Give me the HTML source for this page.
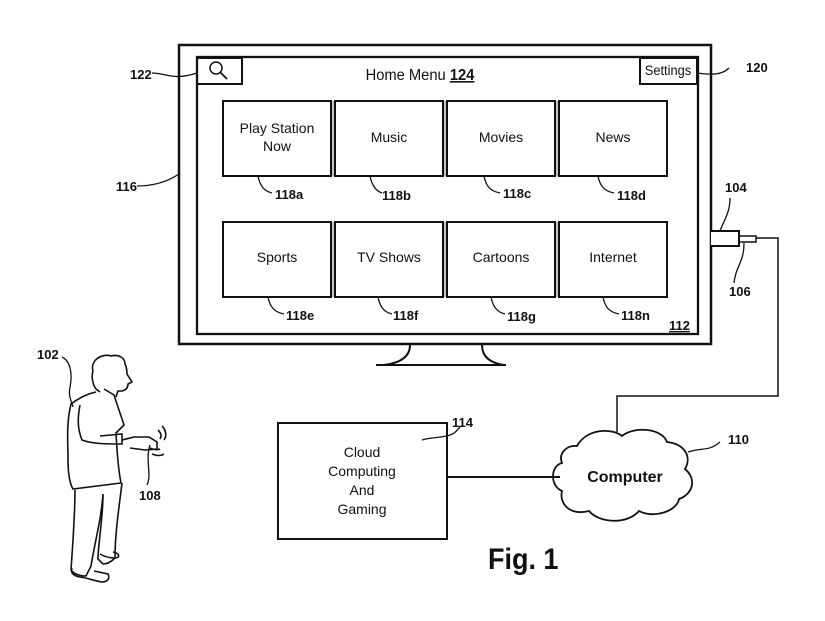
<!DOCTYPE html>
<html><head><style>
body{margin:0;background:#fff}
svg{display:block}
text{font-family:"Liberation Sans",sans-serif;fill:#111}
.t{font-size:14px;text-anchor:middle}
.b{font-size:13px;font-weight:bold}
</style></head><body>
<svg width="825" height="621" viewBox="0 0 825 621" xmlns="http://www.w3.org/2000/svg" fill="none" stroke="#111" stroke-width="2">
<!-- TV -->
<rect x="179" y="45" width="532" height="299" stroke-width="2.5"/>
<rect x="197" y="57" width="501" height="277" stroke-width="2.3"/>
<rect x="197" y="58" width="45" height="26"/>
<circle cx="216" cy="68" r="6" stroke-width="1.5"/>
<line x1="220" y1="72" x2="227" y2="79" stroke-width="1.8"/>
<rect x="640" y="58" width="57" height="26"/>
<g stroke="none">
<text x="668" y="75" class="t" transform="translate(668,0) scale(0.92,1) translate(-668,0)">Settings</text>
<text x="420" y="80" style="font-size:16px" text-anchor="middle" transform="translate(420,0) scale(0.92,1) translate(-420,0)">Home Menu <tspan font-weight="bold" text-decoration="underline">124</tspan></text>
</g>
<!-- tiles -->
<g stroke-width="2">
<rect x="223" y="101" width="108" height="75"/><rect x="335" y="101" width="108" height="75"/>
<rect x="447" y="101" width="108" height="75"/><rect x="559" y="101" width="108" height="75"/>
<rect x="223" y="222" width="108" height="75"/><rect x="335" y="222" width="108" height="75"/>
<rect x="447" y="222" width="108" height="75"/><rect x="559" y="222" width="108" height="75"/>
<path d="M333 101v75M445 101v75M557 101v75M333 222v75M445 222v75M557 222v75" stroke-width="1" stroke="#888"/>
</g>
<g stroke="none">
<text x="277" y="133" class="t">Play Station</text><text x="277" y="151" class="t">Now</text>
<text x="389" y="142" class="t">Music</text><text x="501" y="142" class="t">Movies</text><text x="613" y="142" class="t">News</text>
<text x="277" y="262" class="t">Sports</text><text x="389" y="262" class="t">TV Shows</text><text x="501" y="262" class="t">Cartoons</text><text x="613" y="262" class="t">Internet</text>
<text x="275" y="199" class="b">118a</text><text x="382" y="200" class="b">118b</text><text x="503" y="198" class="b">118c</text><text x="617" y="200" class="b">118d</text>
<text x="286" y="320" class="b">118e</text><text x="393" y="320" class="b">118f</text><text x="507" y="321" class="b">118g</text><text x="621" y="320" class="b">118n</text>
<text x="669" y="330" class="b" text-decoration="underline">112</text>
<text x="130" y="79" class="b">122</text><text x="746" y="72" class="b">120</text>
<text x="116" y="191" class="b">116</text>
<text x="725" y="192" class="b">104</text><text x="729" y="296" class="b">106</text>
<text x="452" y="427" class="b">114</text><text x="728" y="444" class="b">110</text>
<text x="37" y="359" class="b">102</text><text x="139" y="500" class="b">108</text>
<text x="625" y="482" style="font-size:16px;font-weight:bold" text-anchor="middle">Computer</text>
<text x="362" y="457" class="t">Cloud</text><text x="362" y="476" class="t">Computing</text><text x="362" y="495" class="t">And</text><text x="362" y="514" class="t">Gaming</text>
<text x="488" y="569" style="font-size:30px;font-weight:bold" transform="translate(488,0) scale(0.9,1) translate(-488,0)">Fig. 1</text>
</g>
<!-- leaders -->
<g stroke-width="1.3">
<path d="M258 176 c2 10 6 15 14 17"/><path d="M370 176 c2 10 6 15 12 17"/><path d="M484 176 c2 10 6 15 16 17"/><path d="M598 176 c2 10 6 15 16 17"/>
<path d="M268 297 c2 10 6 15 16 17"/><path d="M378 297 c2 10 6 15 14 17"/><path d="M491 297 c2 10 6 15 14 17"/><path d="M603 297 c2 10 6 15 16 17"/>
<path d="M152 73 c15 0 20 8 45 0"/><path d="M697 73 c15 2 25 2 32 -5"/>
<path d="M137 186 c15 0 30 -4 42 -12"/>
<path d="M730 198 c0 15 -6 22 -10 33"/><path d="M744 243 c0 20 -8 22 -10 40"/>
<path d="M422 440 c10 -3 20 -2 28 -5 c5 -1 8 -6 10 -8"/>
<path d="M688 452 c15 -5 20 0 32 -10"/>
<path d="M62 357 c10 5 10 20 8 30 c-2 10 2 15 3 20"/>
<path d="M150 445 c-5 15 2 30 -3 40"/>
</g>
<!-- stand -->
<path d="M410 345 c0 12 -10 18 -26 20 M482 345 c0 12 8 18 22 20 M376 365 h130"/>
<!-- connector -->
<path d="M711 231 h28 v15 h-28" fill="#fff"/>
<rect x="739" y="236" width="17" height="6" stroke-width="1.5"/>
<path d="M756 238 h22 v158 h-161 v36" stroke-width="1.5"/>
<!-- cloud box -->
<rect x="278" y="423" width="169" height="116"/>
<line x1="447" y1="477" x2="560" y2="477"/>
<!-- cloud -->
<path d="M577 446 c10 -18 35 -18 45 -10 c12 -10 40 -8 45 6 c18 2 25 15 18 27 c12 10 8 25 -6 30 c-2 12 -25 20 -40 12 c-12 14 -40 12 -50 0 c-20 5 -30 -8 -27 -20 c-12 -5 -12 -25 0 -28 c-4 -10 5 -18 15 -17z" stroke-width="1.8"/>
<!-- person -->
<g stroke-width="1.6">
<path d="M93 371 c-3 -10 8 -18 18 -15 c8 -2 14 2 14 8 c2 4 2 8 2 10 l5 8 l-4 2 c0 4 -2 6 -6 7 l-4 0 l-2 6"/>
<path d="M93 371 c-2 6 0 14 3 18 l4 3"/>
<path d="M96 392 c-10 2 -20 8 -25 12 c-5 20 -3 40 -3 55 c0 15 2 25 5 30 l48 -6 c-3 -15 -4 -30 -5 -50 l8 -8 l-10 -30 l-10 -6"/>
<path d="M80 405 c-3 15 -2 25 2 35 c10 4 25 4 40 4 l0 -10 l-22 2"/>
<path d="M122 440 l12 -3 l15 0 l8 5 l0 7 l-12 1 l-15 -2"/>
<path d="M75 490 c0 25 -2 50 -4 80 c4 5 10 6 15 6 l5 -10 c4 -25 10 -45 12 -72 c0 25 -5 50 -5 65 l5 5 c6 0 10 -4 12 -6 c0 -25 4 -50 7 -75"/>
<path d="M72 568 c-2 5 2 8 8 9 c8 1 15 4 22 5 c6 0 8 -4 6 -8 l-14 -3"/>
<path d="M100 554 c5 3 10 4 15 4 c6 0 4 -5 -2 -6"/>
<path d="M158 430 c3 3 4 6 2 9 M162 426 c4 4 5 10 2 14 M152 454 c5 2 9 2 12 0 M150 448 c4 2 8 2 10 1"/>
</g>
</svg>
</body></html>
